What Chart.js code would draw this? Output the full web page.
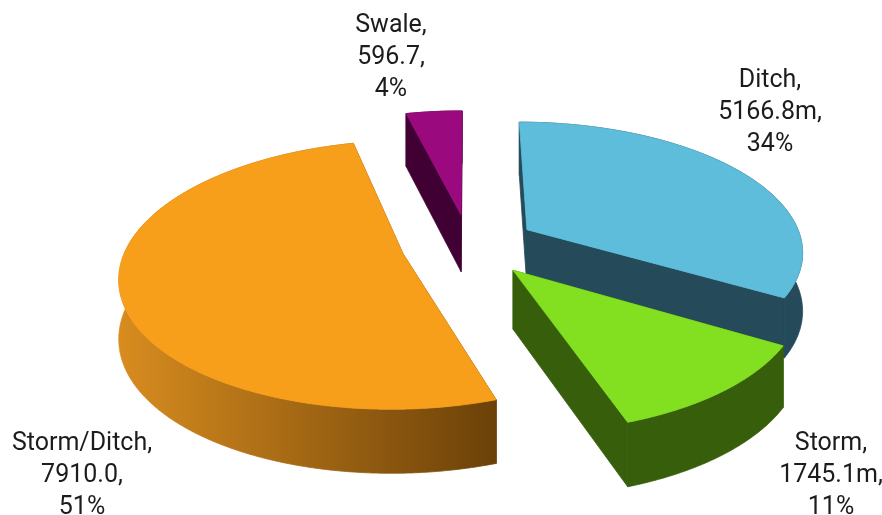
<!DOCTYPE html>
<html>
<head>
<meta charset="utf-8">
<script src="https://cdn.jsdelivr.net/npm/chart.js@4.4.1/dist/chart.umd.min.js"></script>
<style>
  html, body { margin: 0; padding: 0; background: #ffffff; }
  #wrap { width: 882px; height: 515px; }
</style>
</head>
<body>
<div id="wrap"><canvas id="chart" width="882" height="515"></canvas></div>
<script>
// Drainage length by type
const categories = ['Ditch', 'Storm', 'Storm/Ditch', 'Swale'];
const lengths = [5166.8, 1745.1, 7910.0, 596.7];
const units = ['m', 'm', '', ''];

// Palette: top faces and extruded walls
const topColors = ['#5ebdda', '#82e020', '#f79e1a', '#9a0a7e'];
const sideColors = ['#254a5a', '#375f0b', ['#d88c1f', '#6b4108'], '#400034'];

// Draws the pie as an exploded, tilted 3D pie using the arc angles Chart.js computes
const pie3d = {
  id: 'pie3d',
  beforeDatasetsDraw(chart, args, opts) {
    const ctx = chart.ctx;
    const meta = chart.getDatasetMeta(0);
    const arcs = meta.data;
    if (!arcs.length) return false;
    const cx = arcs[0].x, cy = arcs[0].y;
    const R = arcs[0].outerRadius * opts.radiusScale;
    const D = R * opts.perspective;
    const k = opts.tilt;
    const d = R * opts.explode;

    const proj = (X, Z, h) => {
      const s = D / (D - Z);
      return [cx + X * s, cy + Z * k * s + h * opts.depth * Math.pow(s, 0.55)];
    };

    const slices = arcs.map((arc, i) => {
      const a0 = arc.startAngle, a1 = arc.endAngle;
      const m = (a0 + a1) / 2;
      return { i, a0, a1, ox: d * Math.cos(m), oz: d * Math.sin(m) };
    }).sort((p, q) => p.oz - q.oz);

    const rimPts = (sl, h, reverse) => {
      const pts = [];
      const n = Math.max(8, Math.ceil((sl.a1 - sl.a0) / (Math.PI / 360)));
      for (let j = 0; j <= n; j++) {
        const t = reverse ? 1 - j / n : j / n;
        const a = sl.a0 + (sl.a1 - sl.a0) * t;
        pts.push(proj(sl.ox + R * Math.cos(a), sl.oz + R * Math.sin(a), h));
      }
      return pts;
    };

    const fillPoly = (pts, fill) => {
      ctx.beginPath();
      pts.forEach((p, j) => j ? ctx.lineTo(p[0], p[1]) : ctx.moveTo(p[0], p[1]));
      ctx.closePath();
      ctx.fillStyle = fill;
      ctx.strokeStyle = fill;
      ctx.lineWidth = 0.8;
      ctx.fill();
      ctx.stroke();
    };

    ctx.save();
    slices.forEach(sl => {
      const side = sideColors[sl.i];
      const apexTop = proj(sl.ox, sl.oz, 0);
      const apexBot = proj(sl.ox, sl.oz, 1);
      const wallTop = rimPts(sl, 0, false);
      const wallBot = rimPts(sl, 1, true);

      let sideFill = side;
      if (Array.isArray(side)) {
        const xs = wallTop.map(p => p[0]);
        const g = ctx.createLinearGradient(Math.min(...xs), 0, Math.max(...xs), 0);
        g.addColorStop(0, side[0]);
        g.addColorStop(1, side[1]);
        sideFill = g;
      }
      const radialFill = Array.isArray(side) ? side[1] : side;

      // radial cut faces
      [sl.a0, sl.a1].forEach(a => {
        const t = proj(sl.ox + R * Math.cos(a), sl.oz + R * Math.sin(a), 0);
        const b = proj(sl.ox + R * Math.cos(a), sl.oz + R * Math.sin(a), 1);
        fillPoly([apexTop, t, b, apexBot], radialFill);
      });
      // outer wall
      fillPoly(wallTop.concat(wallBot), sideFill);
      // top face
      fillPoly([apexTop].concat(wallTop), topColors[sl.i]);
    });
    ctx.restore();
    return false;
  },
  afterDraw(chart, args, opts) {
    const ctx = chart.ctx;
    const total = lengths.reduce((s, v) => s + v, 0);
    ctx.save();
    ctx.font = opts.font;
    ctx.fillStyle = opts.color;
    ctx.textAlign = 'center';
    ctx.textBaseline = 'alphabetic';
    categories.forEach((name, i) => {
      const lines = [
        name + ',',
        lengths[i].toFixed(1) + units[i] + ',',
        Math.round(lengths[i] / total * 100) + '%'
      ];
      const [x, y] = opts.anchors[i];
      lines.forEach((ln, j) => ctx.fillText(ln, x, y + j * opts.lineHeight));
    });
    ctx.restore();
  }
};

new Chart(document.getElementById('chart'), {
  type: 'pie',
  data: {
    labels: categories,
    datasets: [{
      data: lengths,
      backgroundColor: topColors,
      borderWidth: 0,
      hoverOffset: 0
    }]
  },
  options: {
    responsive: false,
    animation: false,
    events: [],
    layout: { padding: { left: 56, right: 0, top: 0, bottom: 25 } },
    plugins: {
      legend: { display: false },
      tooltip: { enabled: false },
      pie3d: {
        radiusScale: 1.127,
        tilt: 0.465,
        perspective: 6.5,
        explode: 0.246,
        depth: 58,
        font: '25px Roboto',
        color: '#1c1c1c',
        lineHeight: 32,
        anchors: [[770, 87], [831, 450], [82, 450], [391, 32]]
      }
    }
  },
  plugins: [pie3d]
});
</script>
</body>
</html>
